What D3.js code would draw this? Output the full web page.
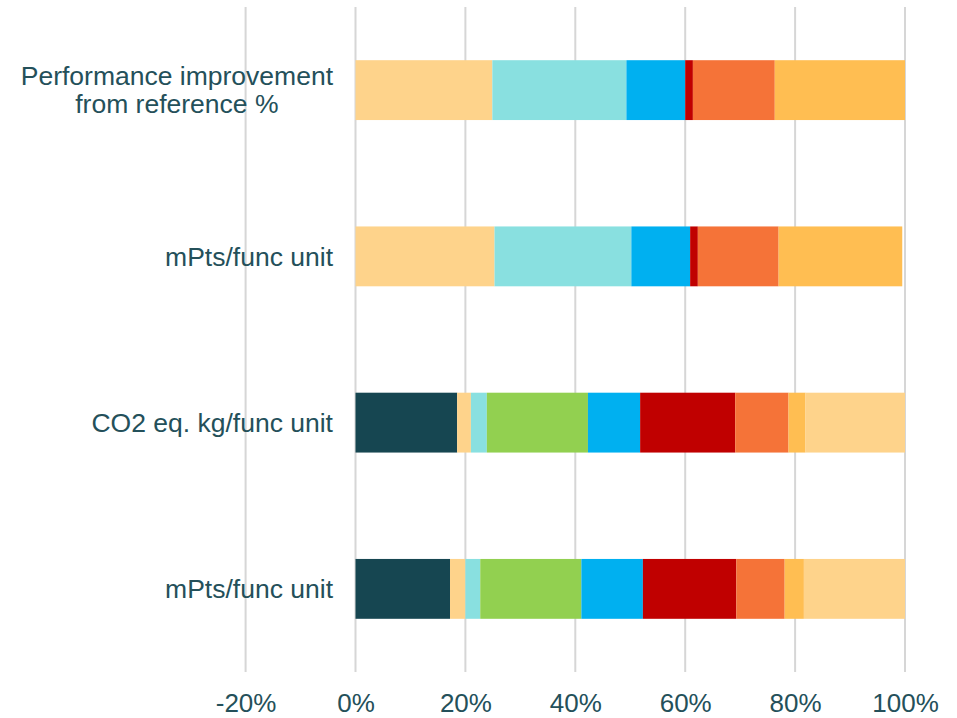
<!DOCTYPE html>
<html>
<head>
<meta charset="utf-8">
<script src="https://cdn.jsdelivr.net/npm/d3@7"></script>
<style>
  html, body { margin: 0; padding: 0; background: #ffffff; }
  svg { display: block; }
  text { font-family: "Liberation Sans", Arial, sans-serif; }
</style>
</head>
<body>
<svg id="chart" width="957" height="718"></svg>
<script>
// Category labels, top to bottom (multi-line labels split with "\n")
const categories = [
  "Performance improvement\nfrom reference %",
  "mPts/func unit",
  "CO2 eq. kg/func unit",
  "mPts/func unit"
];

// Segment shares (%) of each bar, left to right
const perfImprovement = [24.9, 24.4, 10.7, 1.4, 14.9, 23.7];
const mptsTop         = [25.3, 24.9, 10.7, 1.4, 14.7, 22.5];
const co2Values       = [18.5, 2.5, 2.9, 18.4, 9.5, 17.3, 9.7, 3.1, 18.1];
const mptsBottom      = [17.2, 2.8, 2.7, 18.4, 11.2, 17.0, 8.8, 3.5, 18.4];

// Colour keys of the segments, left to right
const perfColors   = ["peach", "aqua", "blue", "red", "orange", "gold"];
const mptsTopColors = ["peach", "aqua", "blue", "red", "orange", "gold"];
const co2Colors    = ["navy", "peach", "aqua", "green", "blue", "red", "orange", "gold", "peach"];
const mptsBottomColors = ["navy", "peach", "aqua", "green", "blue", "red", "orange", "gold", "peach"];

// Axis ticks (%)
const tickValues = [-20, 0, 20, 40, 60, 80, 100];

const palette = {
  navy:   "#164651",
  peach:  "#FED38B",
  aqua:   "#89E0E0",
  green:  "#92D050",
  blue:   "#00B0F0",
  red:    "#C00000",
  orange: "#F57338",
  gold:   "#FFBE52"
};

const rows = [
  { values: perfImprovement, colors: perfColors },
  { values: mptsTop, colors: mptsTopColors },
  { values: co2Values, colors: co2Colors },
  { values: mptsBottom, colors: mptsBottomColors }
];

const svg = d3.select("#chart");
const plotTop = 7, plotBottom = 672;
const textColor = "#24505A";
const labelRight = 333;

const x = d3.scaleLinear().domain([-20, 100]).range([245.6, 905]);
const y = d3.scaleBand()
  .domain(d3.range(categories.length))
  .range([plotTop, plotBottom])
  .paddingInner(0.64)
  .paddingOuter(0.32);

// Vertical gridlines
svg.append("g")
  .selectAll("line")
  .data(tickValues)
  .join("line")
  .attr("x1", d => x(d)).attr("x2", d => x(d))
  .attr("y1", plotTop).attr("y2", plotBottom)
  .attr("stroke", "#D6D6D6")
  .attr("stroke-width", 2);

// Stacked segments
rows.forEach((row, i) => {
  const starts = d3.cumsum([0, ...row.values]);
  svg.append("g")
    .selectAll("rect")
    .data(row.values)
    .join("rect")
    .attr("x", (d, j) => x(starts[j]))
    .attr("width", (d, j) => x(starts[j] + d) - x(starts[j]))
    .attr("y", y(i))
    .attr("height", y.bandwidth())
    .attr("fill", (d, j) => palette[row.colors[j]]);
});

// X axis tick labels
const xAxis = d3.axisBottom(x)
  .tickValues(tickValues)
  .tickSize(0)
  .tickPadding(0)
  .tickFormat(d => d + "%");
const gx = svg.append("g")
  .attr("transform", `translate(0, ${plotBottom + 22})`)
  .call(xAxis);
gx.select(".domain").remove();
gx.selectAll("text")
  .attr("font-size", 26)
  .attr("fill", textColor)
  .attr("dy", "0.71em")
  .attr("font-family", "\"Liberation Sans\", Arial, sans-serif");

// Category labels: block right-aligned to the plot, lines centred within it
const labels = svg.append("g")
  .selectAll("text")
  .data(categories)
  .join("text")
  .attr("text-anchor", "middle")
  .attr("font-size", 26.5)
  .attr("fill", textColor);

labels.each(function (d, i) {
  const lines = d.split("\n");
  const cy = y(i) + y.bandwidth() / 2;
  const lineH = 28;
  const first = cy - (lines.length - 1) * lineH / 2;
  const spans = d3.select(this).selectAll("tspan")
    .data(lines)
    .join("tspan")
    .attr("y", (l, k) => first + k * lineH)
    .attr("dy", "0.35em")
    .text(l => l);
  const widest = d3.max(spans.nodes(), n => n.getComputedTextLength());
  spans.attr("x", labelRight - widest / 2);
});
</script>
</body>
</html>
